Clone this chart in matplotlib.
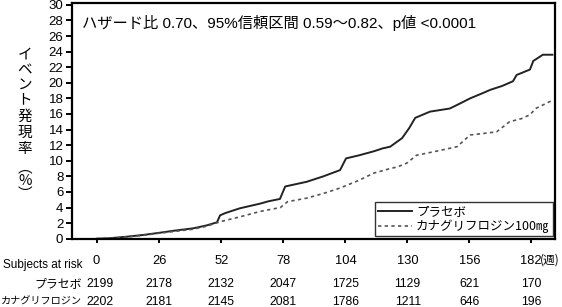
import matplotlib
matplotlib.use("Agg")
import matplotlib.pyplot as plt

plt.rcParams['font.family'] = ['Liberation Sans', 'Noto Sans CJK JP', 'DejaVu Sans']

# Kaplan-Meier style cumulative event curves (weeks, %)
placebo_weeks = [0, 5, 12.7, 20, 26.5, 33, 40.4, 46, 50.4, 51.7, 54, 57, 60, 68.5, 72, 76.8, 79, 82,
                 88, 95, 102, 104.5, 110, 116, 120, 123, 128, 131, 133.5, 139.7, 148, 152, 156.5,
                 162, 165, 170, 174.5, 176, 181.6, 183, 187, 191]
placebo_pct = [0, 0.05, 0.26, 0.5, 0.77, 1.05, 1.33, 1.7, 2.1, 3.0, 3.3, 3.6, 3.9, 4.5, 4.8, 5.1, 6.7, 6.9,
               7.3, 8.0, 8.8, 10.3, 10.7, 11.2, 11.6, 11.8, 12.9, 14.2, 15.5, 16.3, 16.7, 17.3, 18.0,
               18.7, 19.1, 19.6, 20.2, 21.0, 21.7, 22.8, 23.6, 23.6]

cana_weeks = [0, 6, 12, 20, 26, 33, 40, 46, 50, 52, 60, 68.5, 77, 80, 88, 95, 102, 110, 116, 123,
              126, 130, 134, 142, 151, 156.5, 162, 167.6, 173, 178, 181.6, 184, 190, 191]
cana_pct = [0, 0.05, 0.2, 0.45, 0.7, 0.95, 1.2, 1.6, 2.0, 2.2, 2.8, 3.5, 4.0, 4.75, 5.2, 5.8, 6.5, 7.5,
            8.4, 9.0, 9.2, 9.7, 10.7, 11.2, 11.8, 13.3, 13.5, 13.7, 15.0, 15.4, 15.9, 16.7, 17.6, 17.6]

week_ticks = [0, 26, 52, 78, 104, 130, 156, 182]
risk_placebo = [2199, 2178, 2132, 2047, 1725, 1129, 621, 170]
risk_cana = [2202, 2181, 2145, 2081, 1786, 1211, 646, 196]

series_names = ["プラセボ", "カナグリフロジン100㎎"]
row_names = ["プラセボ", "カナグリフロジン"]
annotation = "ハザード比 0.70、95%信頼区間 0.59～0.82、p値 <0.0001"
ylabel_chars = ["イ", "ベ", "ン", "ト", "発", "現", "率", "︵", "%", "︶"]

W, H = 562, 307
fig = plt.figure(figsize=(W / 100, H / 100), dpi=100)
ax = fig.add_axes([71.7 / W, 1 - 238.7 / H, (555 - 71.7) / W, (238.7 - 2.5) / H])

ax.plot(placebo_weeks, placebo_pct, color="#222222", lw=1.4, label=series_names[0])
ax.plot(cana_weeks, cana_pct, color="#555555", lw=1.2, linestyle=(0, (2, 2)), label=series_names[1])

ax.set_xlim(-10.5, 192.1)
ax.set_ylim(0, 30.3)
ax.set_yticks(range(0, 31, 2))
ax.set_xticks(week_ticks)
ax.set_xticklabels([])
for s in ax.spines.values():
    s.set_linewidth(1.6)
    s.set_color("black")
ax.tick_params(axis='y', direction='out', length=4.5, width=1.4, labelsize=9.5, pad=1.5)
ax.tick_params(axis='x', direction='out', length=3.2, width=1.4)

ax.text(82 / W, 1 - 23 / H, annotation, transform=fig.transFigure, fontsize=11,
        ha='left', va='center', family=['Liberation Sans', 'Noto Sans CJK JP'])

leg = ax.legend(loc='lower right', fontsize=9, frameon=True, fancybox=False, handlelength=2.7,
                borderaxespad=0.2, borderpad=0.25, labelspacing=0.1, handletextpad=0.3,
                prop={'family': ['Noto Sans CJK JP', 'DejaVu Sans'], 'size': 9})
leg.get_frame().set_edgecolor("black")
leg.get_frame().set_linewidth(1.0)

# y label stacked vertically
ys = [55, 70, 85, 100, 117, 133, 149, 168, 181, 194]
for ch, y in zip(ylabel_chars, ys):
    fig.text(25 / W, 1 - y / H, ch, fontsize=10.5, ha='center', va='center',
             family=['Noto Sans CJK JP', 'DejaVu Sans'])

# at-risk table
tick_px = [96.2, 159.3, 221.3, 283.5, 346, 407.7, 469.7, 531]
num_px = [99.7] + tick_px[1:]
for i, wk in enumerate(week_ticks):
    fig.text(tick_px[i] / W, 1 - 260.5 / H, str(wk), fontsize=9.3, ha='center', va='center')
    fig.text(num_px[i] / W, 1 - 283.7 / H, str(risk_placebo[i]), fontsize=8.8, ha='center', va='center')
    fig.text(num_px[i] / W, 1 - 302 / H, str(risk_cana[i]), fontsize=8.8, ha='center', va='center')
fig.text(540 / W, 1 - 260.5 / H, "(週)", fontsize=8.5, ha='left', va='center',
         family=['Noto Sans CJK JP'])
fig.text(3 / W, 1 - 265.3 / H, "Subjects at risk", fontsize=8.5, ha='left', va='center')
fig.text(82 / W, 1 - 283.7 / H, row_names[0], fontsize=8.6, ha='right', va='center',
         family=['Noto Sans CJK JP'])
fig.text(82 / W, 1 - 302 / H, row_names[1], fontsize=7.3, ha='right', va='center',
         family=['Noto Sans CJK JP'])

fig.savefig("out.png", dpi=100, facecolor="white")
